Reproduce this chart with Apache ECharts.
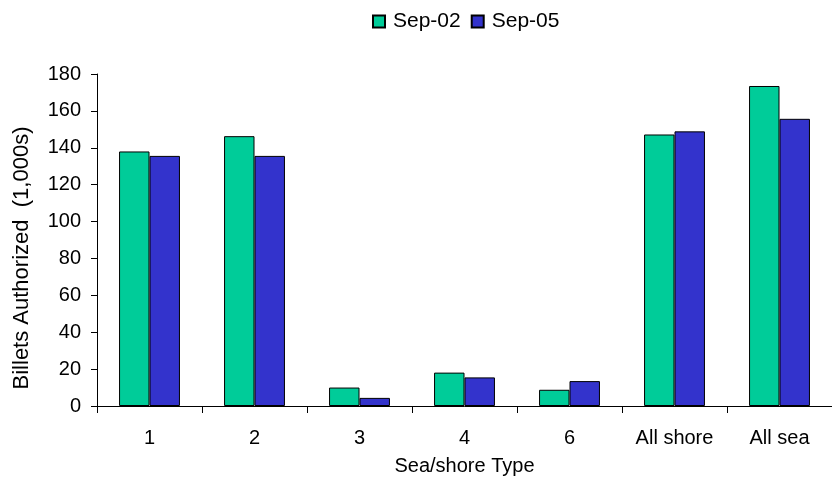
<!DOCTYPE html>
<html><head><meta charset="utf-8">
<script src="https://cdn.jsdelivr.net/npm/echarts@6/dist/echarts.min.js"></script>
<style>html,body{margin:0;padding:0;background:#fff}#c{width:832px;height:481px}</style>
</head><body><div id="c"></div>
<script>
var categories = ['1','2','3','4','6','All shore','All sea'];
var sep02 = [138, 146.3, 10, 18.1, 8.8, 147.2, 173.5];
var sep05 = [135.6, 135.6, 4.4, 15.5, 13.5, 148.9, 155.7];
var yTicks = {min:0, max:180, interval:20};
var chart = echarts.init(document.getElementById('c'));
var font = 'Liberation Sans, Arial, sans-serif';
chart.setOption({
  animation:false,
  textStyle:{fontFamily:font},
  legend:{top:6, left:367, itemWidth:12, itemHeight:12, itemGap:10, icon:'rect',
    textStyle:{fontSize:21, color:'#000', fontFamily:font, padding:[0,0,0,3]},
    data:['Sep-02','Sep-05']},
  grid:{left:97, right:-9, top:74, bottom:71},
  xAxis:{type:'category', data:categories,
    axisLine:{lineStyle:{color:'#000'}},
    axisTick:{show:true, alignWithLabel:false, length:7, inside:false, lineStyle:{color:'#000'}},
    axisLabel:{color:'#000', fontSize:20, margin:22, fontFamily:font},
    name:'Sea/shore Type', nameLocation:'middle', nameGap:50,
    nameTextStyle:{fontSize:20, color:'#000', fontFamily:font}},
  yAxis:{type:'value', min:yTicks.min, max:yTicks.max, interval:yTicks.interval,
    splitLine:{show:false},
    axisLine:{show:true, lineStyle:{color:'#000'}},
    axisTick:{show:true, length:6, lineStyle:{color:'#000'}},
    axisLabel:{color:'#000', fontSize:20, margin:16, fontFamily:font},
    name:'Billets Authorized  (1,000s)', nameLocation:'middle', nameGap:64,
    nameTextStyle:{fontSize:22, color:'#000', fontFamily:font, padding:[0,36,0,0]}},
  series:[
    {name:'Sep-02', type:'bar', data:sep02, barGap:'0%', barCategoryGap:'42%',
     itemStyle:{color:'#00CC99', borderColor:'#000', borderWidth:1}},
    {name:'Sep-05', type:'bar', data:sep05, barGap:'0%', barCategoryGap:'42%',
     itemStyle:{color:'#3333CC', borderColor:'#000', borderWidth:1}}
  ]
});
</script></body></html>
